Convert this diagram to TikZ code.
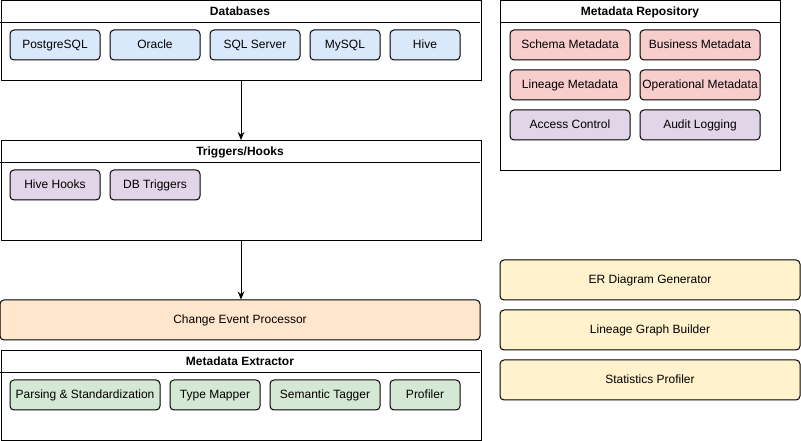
\documentclass[tikz,border=0pt]{standalone}
\usepackage{fontspec}
\setmainfont{Liberation Sans}
\usetikzlibrary{arrows.meta}
\definecolor{dbblue}{HTML}{DAE8FC}
\definecolor{metared}{HTML}{F8CECC}
\definecolor{ctrlpurple}{HTML}{E1D5E7}
\definecolor{extgreen}{HTML}{D5E8D4}
\definecolor{procorange}{HTML}{FFE6CC}
\definecolor{outyellow}{HTML}{FFF2CC}
\begin{document}
\begin{tikzpicture}[x=0.75pt, y=-0.75pt, line width=0.75pt,
      every node/.style={font=\small, inner sep=0pt, text height=6.5pt, text depth=1.8pt},
      group/.style={draw, anchor=north west},
      grouptitle/.style={font=\small\bfseries},
      item/.style={draw, rounded corners=3pt, minimum height=22.5pt, fill=#1},
      arrow/.style={-{Stealth[length=6pt, width=5pt]}}]
    \useasboundingbox (0,0) rectangle (801,441);

    % 1. Grupos (caixas externas com faixa de título)
    \node[group, minimum width=360pt, minimum height=60pt] (databases) at (0.5,0.5) {};
    \node[grouptitle] (databasesT) at (240,12.5) {Databases};
    \draw (0,23) -- (480,23);

    \node[group, minimum width=360pt, minimum height=75pt] (triggers) at (0.5,140) {};
    \node[grouptitle] (triggersT) at (240,152.5) {Triggers/Hooks};
    \draw (0,163) -- (480,163);

    \node[group, minimum width=360pt, minimum height=67.5pt] (extractor) at (0.5,350) {};
    \node[grouptitle] (extractorT) at (240,362.5) {Metadata Extractor};
    \draw (0,373) -- (480,373);

    \node[group, minimum width=210pt, minimum height=127.5pt] (repository) at (500,0.5) {};
    \node[grouptitle] (repositoryT) at (640,12.5) {Metadata Repository};
    \draw (500,23) -- (780,23);

    % 2. Itens dentro dos grupos
    \foreach \id/\txt/\x/\w in {pg/PostgreSQL/55/67.5, ora/Oracle/155/67.5,
        mssql/SQL Server/255/67.5, my/MySQL/345/52.5, hive/Hive/425/52.5} {
      \node[item=dbblue, minimum width=\w pt] (\id) at (\x,45) {\txt};
    }

    \node[item=ctrlpurple, minimum width=67.5pt] (hooks) at (55,185) {Hive Hooks};
    \node[item=ctrlpurple, minimum width=67.5pt] (dbtrig) at (155,185) {DB Triggers};

    \foreach \id/\txt/\x/\w in {parse/Parsing \& Standardization/85/112.5,
        mapper/Type Mapper/215/67.5, tagger/Semantic Tagger/325/82.5,
        profiler/Profiler/425/52.5} {
      \node[item=extgreen, minimum width=\w pt] (\id) at (\x,395) {\txt};
    }

    \node[item=metared, minimum width=90pt] (schema) at (570,45) {Schema Metadata};
    \node[item=metared, minimum width=90pt] (business) at (700,45) {Business Metadata};
    \node[item=metared, minimum width=90pt] (lineage) at (570,85) {Lineage Metadata};
    \node[item=metared, minimum width=90pt] (operational) at (700,85) {Operational Metadata};
    \node[item=ctrlpurple, minimum width=90pt] (access) at (570,125) {Access Control};
    \node[item=ctrlpurple, minimum width=90pt] (audit) at (700,125) {Audit Logging};

    % 3. Blocos soltos
    \node[item=procorange, minimum width=360pt, minimum height=30pt] (processor) at (240,320) {Change Event Processor};
    \node[item=outyellow, minimum width=225pt, minimum height=30pt] (erdiagram) at (650,280) {ER Diagram Generator};
    \node[item=outyellow, minimum width=225pt, minimum height=30pt] (lineagegraph) at (650,330) {Lineage Graph Builder};
    \node[item=outyellow, minimum width=225pt, minimum height=30pt] (statsprof) at (650,380) {Statistics Profiler};

    % 4. Setas
    \draw[arrow] (databases.south) -- (triggers.north);
    \draw[arrow] (triggers.south) -- (triggers.south |- processor.north);

    \end{tikzpicture}
\end{document}
